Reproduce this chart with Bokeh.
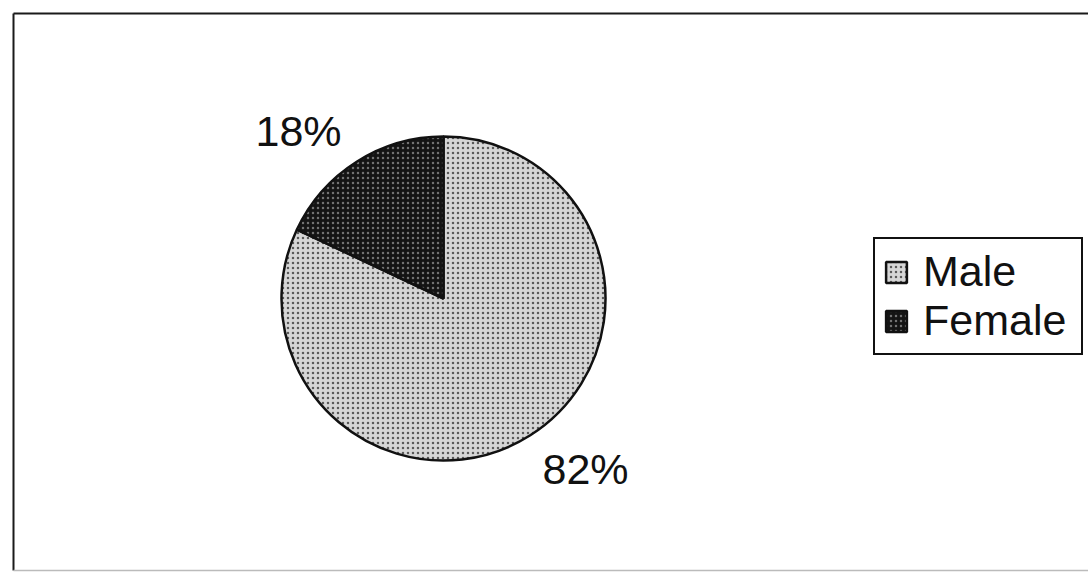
import math
from bokeh.plotting import figure
from bokeh.models import ColumnDataSource, Legend, LegendItem
from bokeh.core.properties import value
from bokeh.embed import file_html
from bokeh.resources import INLINE

categories = ["Male", "Female"]
percents = [82, 18]
pct_labels = ["82%", "18%"]
fills = ["#d6d6d6", "#141414"]
hatch_colors = ["#3a3a3a", "#8a8a8a"]

W, H = 1088, 583
cx, cy, R = 443, 285, 162

# angles: Female starts at top going counter-clockwise, Male takes the rest
female_frac = percents[1] / sum(percents)
start_f = math.pi / 2
end_f = start_f + female_frac * 2 * math.pi
starts = [end_f, start_f]
ends = [start_f + 2 * math.pi, end_f]

src = ColumnDataSource(dict(
    x=[cx, cx], y=[cy, cy], start=starts, end=ends,
    fill=fills, hatch=hatch_colors, cat=categories,
))

p = figure(width=W, height=H, x_range=(0, W), y_range=(0, H),
           output_backend="svg", toolbar_location=None,
           min_border=0, outline_line_color=None,
           background_fill_color="white", border_fill_color="white")
p.axis.visible = False
p.grid.visible = False

# frame lines of the original scanned chart box
p.segment(x0=[13, 13], y0=[H - 13, H - 13], x1=[W, 13], y1=[H - 13, 13],
          line_color="#1a1a1a", line_width=2)
p.segment(x0=[13], y0=[13], x1=[W], y1=[13], line_color="#bbbbbb", line_width=1.5)

r = p.wedge(x="x", y="y", radius=R, start_angle="start", end_angle="end",
            source=src, fill_color="fill", line_color="#111111", line_width=2.5,
            hatch_pattern="dot", hatch_color="hatch", hatch_scale=5,
            hatch_alpha=0.8)

# percentage labels
lab_x = [585, 298]
lab_y = [H - 468, H - 130]
p.text(x=lab_x, y=lab_y, text=pct_labels, text_font=value("Liberation Sans"),
       text_font_size="43px", text_color="#111111",
       text_align="center", text_baseline="middle")

legend = Legend(items=[LegendItem(label=categories[0], renderers=[r], index=0),
                       LegendItem(label=categories[1], renderers=[r], index=1)],
                location=(873, 228))
legend.label_text_font = "Liberation Sans"
legend.label_text_font_size = "43px"
legend.label_text_color = "#111111"
legend.glyph_width = 26
legend.glyph_height = 26
legend.label_standoff = 14
legend.label_width = 150
legend.padding = 8
legend.spacing = 0
legend.margin = 0
legend.border_line_color = "#111111"
legend.border_line_alpha = 1.0
legend.border_line_width = 2
legend.background_fill_color = "white"
p.add_layout(legend)

open("out.html", "w").write(file_html(p, INLINE))
